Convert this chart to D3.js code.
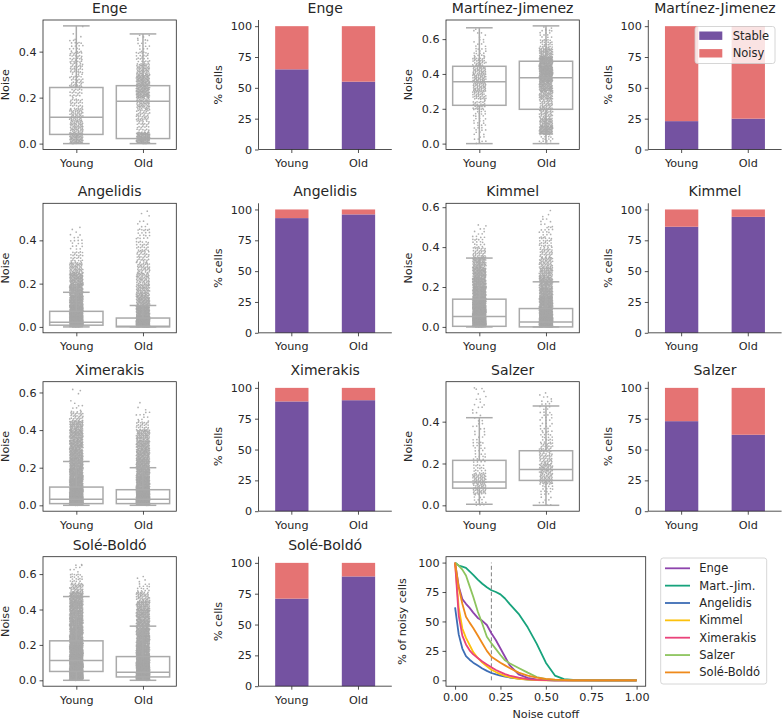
<!DOCTYPE html>
<html><head><meta charset="utf-8">
<script src="https://cdn.jsdelivr.net/npm/d3@7"></script>
<style>
body{margin:0;background:#fff}
svg{display:block}
text{font-family:"DejaVu Sans",sans-serif;fill:#262626}
</style>
</head><body>
<svg id="c" width="782" height="720"></svg>
<script>
// ---------------- DATA ----------------
const datasets   = ["Enge","Martínez-Jimenez","Angelidis","Kimmel","Ximerakis","Salzer","Solé-Boldó"];
const shortNames = ["Enge","Mart.-Jim.","Angelidis","Kimmel","Ximerakis","Salzer","Solé-Boldó"];
const groups = ["Young","Old"];
// box stats: [lower whisker, Q1, median, Q3, upper whisker]
const boxYoung = [
  [0,0.040,0.115,0.244,0.512],
  [0,0.220,0.355,0.444,0.665],
  [0,0.008,0.021,0.072,0.160],
  [0,0.003,0.052,0.139,0.345],
  [0,0.009,0.032,0.097,0.233],
  [0.005,0.082,0.112,0.215,0.419],
  [0,0.050,0.112,0.223,0.473]
];
const boxOld = [
  [0,0.022,0.184,0.252,0.477],
  [0,0.197,0.378,0.473,0.676],
  [0,0.000,0.003,0.041,0.099],
  [0,0.000,0.025,0.092,0.226],
  [0,0.009,0.032,0.083,0.200],
  [0,0.119,0.171,0.261,0.475],
  [0,0.019,0.045,0.134,0.306]
];
const maxYoung = [0.512,0.665,0.463,0.519,0.626,0.563,0.665];
const maxOld   = [0.477,0.676,0.544,0.590,0.550,0.538,0.590];
// cell counts per noise bin of 0.05 (as drawn in the strip plots)
const binWidth = 0.05;
const densYoung = [
  [90,60,50,30,25,30,35,30,18,3,1],
  [8,10,12,15,25,35,45,50,45,30,15,8,5,1],
  [350,250,180,140,110,60,25,12,6,2],
  [350,260,200,160,130,110,80,35,18,8,2],
  [400,260,190,150,130,115,105,95,75,35,6,2,2],
  [12,45,50,20,15,12,8,8,6,6,5,3],
  [350,300,240,200,170,150,135,125,115,95,45,20,7,2]
];
const densOld = [
  [130,30,40,60,110,100,60,25,12,5],
  [15,90,60,40,40,60,90,120,140,120,60,25,12,4],
  [400,180,100,70,55,42,32,25,18,8,3],
  [400,220,150,120,100,70,50,35,25,15,8,3],
  [400,250,170,130,115,100,90,70,30,9,3],
  [8,15,50,55,40,30,18,12,12,10,5],
  [420,250,180,150,130,115,100,90,75,45,15,4]
];
// % stable cells (noisy = 100 - stable)
const stableYoung = [65,23,93,86,89,73,71];
const stableOld   = [55,25,96,94,90,62,89];
// % of noisy cells vs noise cutoff
const cutoffs     = [0,0.02,0.04,0.06,0.08,0.10,0.125,0.15,0.175,0.20,0.225,0.25,0.275,0.30,0.35,0.40,0.45,0.50,0.55,0.60,0.65,0.70,0.80,0.90,1.00];
const curveEnge   = [100,80,69,65,61.5,57.5,53,50.5,47,40,34,27,20,13,5,2,0.6,0.2,0,0,0,0,0,0,0];
const curveMart   = [100,97.5,96.5,95.5,92.5,89.5,85.5,82,79,76.5,75,73,69.5,65,56.5,45,31,15,4,1,0.3,0.1,0,0,0];
const curveAngel  = [62,39,27,20.5,17.5,15,12.5,10,8,6.2,5,4,3.2,2.4,1.4,0.7,0.3,0.1,0,0,0,0,0,0,0];
const curveKimmel = [100,62,44,36,30,24,19,15,12,9,7,5.2,3.8,2.8,1.3,0.5,0.2,0,0,0,0,0,0,0,0];
const curveXimer  = [100,55,38,30.5,25.5,22,19,16,13.5,11,8.8,7,5.3,4,2.2,1,0.4,0.1,0,0,0,0,0,0,0];
const curveSalzer = [100,97.5,94,89,80,71,58.5,48,37,31.5,26.5,21.5,17,14.5,10.5,6.5,2.8,1,0.3,0.1,0,0,0,0,0];
const curveSole   = [100,79,65,54,49,44.5,38,31.5,25,20,17.5,15,12.7,10.5,6.5,4,2.2,1.2,0.5,0.2,0,0,0,0,0];
const curves = [curveEnge,curveMart,curveAngel,curveKimmel,curveXimer,curveSalzer,curveSole];
const cutoffMarker = 0.2;
const yTicksBox  = [0,0.2,0.4,0.6];
const yTicksBar  = [0,25,50,75,100];
const xTicksLine = [0,0.25,0.5,0.75,1];
const yTicksLine = [0,25,50,75,100];

// ---------------- STYLE / LAYOUT ----------------
const lineColors = ["#8e44ad","#17a37c","#3d6db5","#fcc10d","#ea437b","#8dc45e","#ef8a1c"];
const stableColor = "#7452a1", noisyColor = "#e57373", gray = "#aaaaaa", ink = "#262626";
const FS = 11.2, LFS = 11.5, TFS = 14;
const colX = [43, 258.5, 446, 648.3];
const rowY = [20, 203.3, 381.7, 556.7];
const W = 133.3, H = 129.5;
const svg = d3.select("#c");
const frac = v => v - Math.floor(v);

function styleAxis(a){
  a.select(".domain").remove();
  a.selectAll(".tick line").attr("stroke", ink).attr("stroke-width", 0.8);
  a.selectAll(".tick text").attr("font-size", FS).attr("fill", ink).style("fill", ink);
}
function title(g, txt){
  g.append("text").attr("x", W/2).attr("y", -7).attr("text-anchor","middle")
   .attr("font-size", TFS).text(txt);
}
function ylabel(g, txt, off, h){
  g.append("text").attr("transform", `translate(${-off},${h/2}) rotate(-90)`)
   .attr("text-anchor","middle").attr("font-size", FS).text(txt);
}

function boxPanel(i, left, top){
  const g = svg.append("g").attr("transform", `translate(${left},${top})`);
  const ymax = Math.max(maxYoung[i], maxOld[i]);
  const y = d3.scaleLinear().domain([-0.05*ymax, 1.05*ymax]).range([H, 0]);
  const x = d3.scalePoint().domain(groups).range([0, W]).padding(0.5);
  const unit = x.step();
  groups.forEach((grp, gi) => {
    const dens = gi === 0 ? densYoung[i] : densOld[i];
    const gmax = gi === 0 ? maxYoung[i] : maxOld[i];
    const pts = [];
    let n = 0;
    dens.forEach((c, b) => {
      const lo = b*binWidth, hi = Math.min(lo + binWidth, gmax);
      for (let k = 0; k < c; k++){
        n++;
        pts.push([(frac(n*0.5698402910 + gi*0.3) - 0.5)*0.2, lo + frac(n*0.7548776662)*(hi - lo)]);
      }
    });
    g.append("g").selectAll("circle").data(pts).join("circle")
      .attr("cx", d => x(grp) + d[0]*unit).attr("cy", d => y(d[1]))
      .attr("r", 0.85).attr("fill", "#a6a6a6").attr("fill-opacity", 0.9);
  });
  groups.forEach((grp, gi) => {
    const s = gi === 0 ? boxYoung[i] : boxOld[i];
    const cx = x(grp), bw = 0.8*unit, cw = 0.4*unit;
    const bg = g.append("g").attr("stroke", gray).attr("stroke-width", 1.5).attr("fill","none");
    bg.append("line").attr("x1",cx).attr("x2",cx).attr("y1",y(s[3])).attr("y2",y(s[4]));
    bg.append("line").attr("x1",cx).attr("x2",cx).attr("y1",y(s[0])).attr("y2",y(s[1]));
    bg.append("line").attr("x1",cx-cw/2).attr("x2",cx+cw/2).attr("y1",y(s[4])).attr("y2",y(s[4]));
    bg.append("line").attr("x1",cx-cw/2).attr("x2",cx+cw/2).attr("y1",y(s[0])).attr("y2",y(s[0]));
    bg.append("rect").attr("x",cx-bw/2).attr("width",bw).attr("y",y(s[3])).attr("height",y(s[1])-y(s[3]));
    bg.append("line").attr("x1",cx-bw/2).attr("x2",cx+bw/2).attr("y1",y(s[2])).attr("y2",y(s[2]));
  });
  g.append("rect").attr("width",W).attr("height",H).attr("fill","none").attr("stroke",ink).attr("stroke-width",0.8);
  const ya = g.append("g").call(d3.axisLeft(y).tickValues(yTicksBox.filter(t => t <= 1.05*ymax)).tickFormat(d3.format(".1f")).tickSize(3.5).tickPadding(3));
  styleAxis(ya);
  const xa = g.append("g").attr("transform",`translate(0,${H})`).call(d3.axisBottom(x).tickSize(3.5).tickPadding(6));
  styleAxis(xa);
  title(g, datasets[i]);
  ylabel(g, "Noise", 34.5, H);
}

function barPanel(i, left, top, withLegend){
  const g = svg.append("g").attr("transform", `translate(${left},${top})`);
  const y = d3.scaleLinear().domain([0,105]).range([H,0]);
  const x = d3.scaleBand().domain(groups).range([0,W]).paddingInner(0.5).paddingOuter(0.25);
  const rows = groups.map((grp, gi) => ({grp, stable: gi === 0 ? stableYoung[i] : stableOld[i]}));
  g.selectAll(".s").data(rows).join("rect").attr("x", d => x(d.grp)).attr("width", x.bandwidth())
    .attr("y", d => y(d.stable)).attr("height", d => y(0) - y(d.stable)).attr("fill", stableColor);
  g.selectAll(".n").data(rows).join("rect").attr("x", d => x(d.grp)).attr("width", x.bandwidth())
    .attr("y", y(100)).attr("height", d => y(d.stable) - y(100)).attr("fill", noisyColor);
  g.append("line").attr("x1",0).attr("x2",0).attr("y1",0).attr("y2",H).attr("stroke",ink).attr("stroke-width",0.8);
  g.append("line").attr("x1",0).attr("x2",W).attr("y1",H).attr("y2",H).attr("stroke",ink).attr("stroke-width",0.8);
  const ya = g.append("g").call(d3.axisLeft(y).tickValues(yTicksBar).tickSize(3.5).tickPadding(3));
  styleAxis(ya);
  const xa = g.append("g").attr("transform",`translate(0,${H})`).call(d3.axisBottom(x).tickSize(3.5).tickPadding(6));
  styleAxis(xa);
  title(g, datasets[i]);
  ylabel(g, "% cells", 36.8, H);
  if (withLegend){
    const lg = g.append("g").attr("transform","translate(46.7,6.5)");
    lg.append("rect").attr("width",80).attr("height",37).attr("rx",2.5)
      .attr("fill","#fff").attr("fill-opacity",0.8).attr("stroke","#cccccc").attr("stroke-width",0.8);
    [["Stable",stableColor],["Noisy",noisyColor]].forEach((e, k) => {
      lg.append("rect").attr("x",4.3).attr("y",9.2 + k*17.6 - 4.2).attr("width",23).attr("height",8.4).attr("fill",e[1]);
      lg.append("text").attr("x",37.7).attr("y",9.2 + k*17.6).attr("dy","0.35em").attr("font-size",LFS).text(e[0]);
    });
  }
}

// grid placement
const boxPos = [[0,0],[0,2],[1,0],[1,2],[2,0],[2,2],[3,0]];
boxPos.forEach((p, i) => {
  boxPanel(i, colX[p[1]], rowY[p[0]]);
  barPanel(i, colX[p[1]+1], rowY[p[0]], i === 1);
});

// line panel
(function(){
  const left = 446, top = rowY[3], LW = 199.7, LH = H;
  const g = svg.append("g").attr("transform", `translate(${left},${top})`);
  const x = d3.scaleLinear().domain([-0.05,1.05]).range([0,LW]);
  const y = d3.scaleLinear().domain([-5,105]).range([LH,0]);
  g.append("line").attr("x1",x(cutoffMarker)).attr("x2",x(cutoffMarker)).attr("y1",y(0)).attr("y2",y(100))
    .attr("stroke","#808080").attr("stroke-width",1).attr("stroke-dasharray","4,2.5");
  const line = d3.line().x((d,k) => x(cutoffs[k])).y(d => y(d));
  curves.forEach((c, k) => {
    g.append("path").attr("d", line(c)).attr("fill","none").attr("stroke",lineColors[k])
      .attr("stroke-width",1.8).attr("stroke-linejoin","round");
  });
  g.append("rect").attr("width",LW).attr("height",LH).attr("fill","none").attr("stroke",ink).attr("stroke-width",0.8);
  const ya = g.append("g").call(d3.axisLeft(y).tickValues(yTicksLine).tickSize(3.5).tickPadding(3));
  styleAxis(ya);
  const xa = g.append("g").attr("transform",`translate(0,${LH})`).call(d3.axisBottom(x).tickValues(xTicksLine).tickFormat(d3.format(".2f")).tickSize(3.5).tickPadding(3.5));
  styleAxis(xa);
  ylabel(g, "% of noisy cells", 40, LH);
  g.append("text").attr("x",LW/2).attr("y",161.5).attr("text-anchor","middle").attr("font-size",FS).text("Noise cutoff");
  // legend
  const lg = svg.append("g").attr("transform","translate(660.7,558)");
  lg.append("rect").attr("width",106).attr("height",126).attr("rx",2.5)
    .attr("fill","#fff").attr("stroke","#cccccc").attr("stroke-width",0.8);
  shortNames.forEach((nm, k) => {
    const yy = 10.3 + k*17.35;
    lg.append("line").attr("x1",4.3).attr("x2",29.3).attr("y1",yy).attr("y2",yy).attr("stroke",lineColors[k]).attr("stroke-width",1.8);
    lg.append("text").attr("x",38.6).attr("y",yy).attr("dy","0.35em").attr("font-size",LFS).text(nm);
  });
})();
</script>
</body></html>
